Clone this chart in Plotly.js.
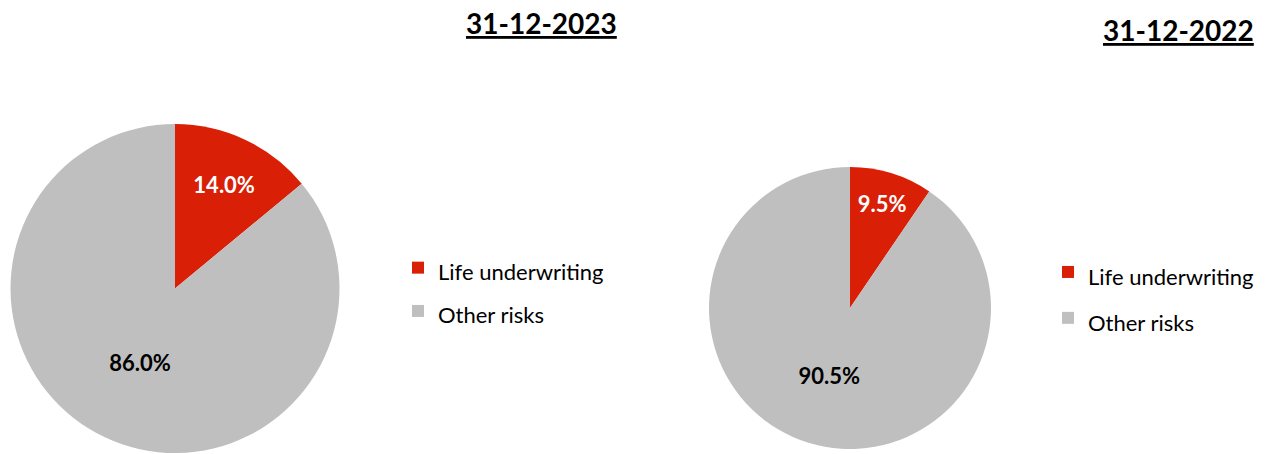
<!DOCTYPE html>
<html>
<head>
<meta charset="utf-8">
<script src="https://cdn.plot.ly/plotly-3.0.1.min.js"></script>
<style>html,body{margin:0;padding:0;overflow:hidden;background:#fff;}</style>
</head>
<body>
<div id="chart" style="width:1265px;height:454px;"></div>
<script>
const categories = ["Life underwriting", "Other risks"];
const values2023 = [14.0, 86.0];
const values2022 = [9.5, 90.5];
const titles = ["31-12-2023", "31-12-2022"];
const sliceColors = ["#D91F05", "#BFBFBF"];
const labelColors = ["#FFFFFF", "#000000"];

const W = 1265, H = 454;
const FONT = "Lato, 'Noto Sans', sans-serif";

// legend labels rendered at 22px while the legend row height is set by the legend font size
const legendLabels = categories.map(c => '<span style="font-size:22px">' + c + '</span>');

function pieTrace(vals, dom, legendId, group) {
  return {
    type: "pie",
    labels: legendLabels,
    values: vals,
    sort: false,
    direction: "clockwise",
    rotation: 0,
    marker: {colors: sliceColors, line: {width: 0}},
    texttemplate: "%{value:.1f}%",
    textposition: "inside",
    insidetextorientation: "horizontal",
    textfont: {family: FONT, size: 22, color: labelColors, weight: "bold"},
    hoverinfo: "label+percent",
    domain: dom,
    legend: legendId,
    legendgroup: group,
    showlegend: true
  };
}

const data = [
  pieTrace(values2023, {x: [10 / W, 340 / W], y: [1 / H, 330 / H]}, "legend", "g2023"),
  pieTrace(values2022, {x: [709 / W, 991 / W], y: [5 / H, 287 / H]}, "legend2", "g2022")
];

const legendStyle = (x, y, fs) => ({
  x: x, y: y, xanchor: "left", yanchor: "top",
  font: {family: FONT, size: fs, color: "#000"},
  bgcolor: "rgba(0,0,0,0)", borderwidth: 0
});

const layout = {
  width: W, height: H,
  margin: {l: 0, r: 0, t: 0, b: 0},
  paper_bgcolor: "#fff",
  plot_bgcolor: "#fff",
  uniformtext: {mode: "show", minsize: 22},
  legend: legendStyle(398 / W, 1 - 241 / H, 31),
  legend2: legendStyle(1048 / W, 1 - 244 / H, 33),
  annotations: [
    {text: "<b><u>" + titles[0] + "</u></b>", x: 541 / W, y: 1 - 23 / H, xref: "paper", yref: "paper",
     xanchor: "center", yanchor: "middle", showarrow: false, font: {family: FONT, size: 28, color: "#000"}},
    {text: "<b><u>" + titles[1] + "</u></b>", x: 1178 / W, y: 1 - 30 / H, xref: "paper", yref: "paper",
     xanchor: "center", yanchor: "middle", showarrow: false, font: {family: FONT, size: 28, color: "#000"}}
  ]
};

Plotly.newPlot("chart", data, layout, {displayModeBar: false, staticPlot: true});
</script>
</body>
</html>
